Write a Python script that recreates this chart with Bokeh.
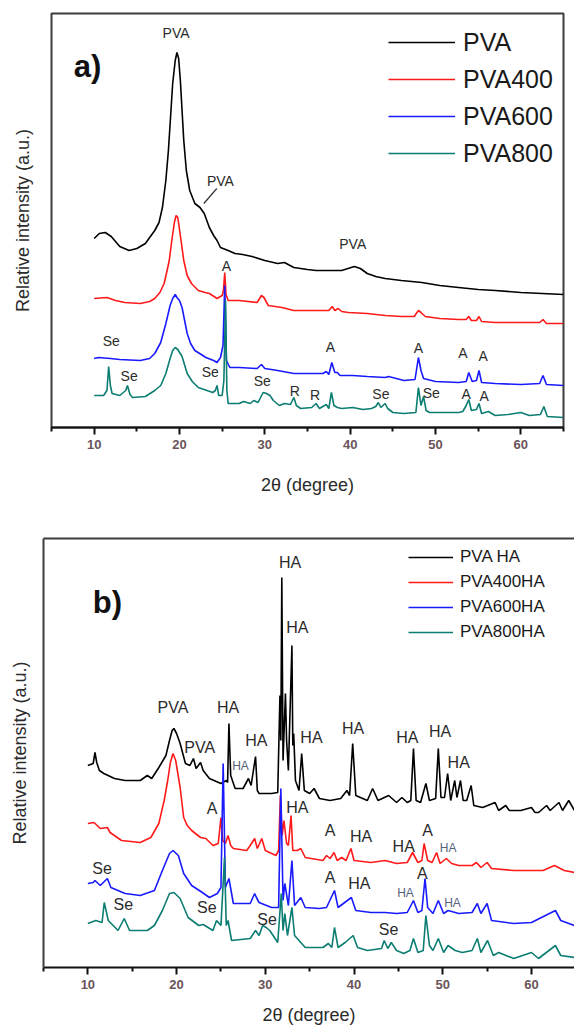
from bokeh.plotting import figure
from bokeh.models import (Range1d, Label, Legend, LegendItem, LinearAxis,
                          FixedTicker, Arrow)
from bokeh.embed import file_html
from bokeh.resources import INLINE

# ---------------- XRD patterns, panel a (2theta in degree, intensity a.u.) ----------------
pva = [(10, 189), (10.6, 194), (11.3, 195), (12.0, 191), (13.0, 181), (14.1, 177), (15.0, 179),
       (16.0, 184), (17.1, 197), (17.6, 205), (18.0, 220), (18.4, 247), (18.7, 277), (19.0, 317),
       (19.2, 344), (19.5, 367), (19.7, 375), (19.9, 369), (20.1, 347), (20.3, 317), (20.5, 287),
       (20.8, 257), (21.2, 237), (21.8, 224), (22.4, 220), (22.9, 214), (23.5, 200), (24.0, 192),
       (24.4, 187), (24.8, 180), (25.7, 177), (26.5, 174), (27.4, 173), (28.5, 171), (30.0, 167),
       (31.5, 164), (32.3, 165), (33.4, 160), (35.0, 158), (36.0, 157), (37.5, 157), (39.0, 157),
       (40.5, 161), (41.2, 159), (42.0, 154), (43.0, 151), (44.1, 149), (46.0, 147), (48.4, 145),
       (50.5, 142), (52.7, 140), (55.0, 138), (57.0, 137), (60.0, 135), (62.5, 134), (65.0, 133)]

pva400 = [(10, 129), (11.5, 130), (12.5, 127), (13.6, 125), (15.4, 124), (16.5, 126), (17.1, 129),
          (17.7, 135), (18.2, 144), (18.6, 159), (18.8, 167), (19.1, 187), (19.4, 205), (19.6, 212),
          (19.8, 210), (20.1, 192), (20.5, 167), (20.9, 152), (21.4, 144), (22.2, 137), (23.0, 135),
          (23.5, 134), (24.4, 129), (25.0, 132), (25.15, 137), (25.3, 155), (25.45, 133), (25.7, 127),
          (27.0, 127), (29.1, 125), (29.6, 132), (29.9, 130), (30.4, 122), (32.0, 120), (33.4, 117),
          (35.5, 117), (37.5, 117), (37.9, 121), (38.2, 117), (38.6, 119), (39.0, 116), (39.8, 115),
          (42.0, 114), (44.1, 112), (46.0, 111), (47.5, 111), (48.0, 117), (48.3, 115), (48.8, 111),
          (50.5, 109), (52.7, 108), (53.6, 108), (53.9, 111), (54.2, 107), (54.8, 107), (55.1, 111),
          (55.4, 106), (57.0, 105), (60.0, 105), (62.2, 105), (62.6, 108), (63.0, 104), (65.0, 104)]

pva600 = [(10, 69), (10.5, 70), (11.9, 69), (13.0, 68), (15.4, 67), (16.5, 69), (17.1, 74), (17.8, 85),
          (18.4, 104), (18.9, 122), (19.2, 129), (19.5, 133), (19.7, 130), (20.0, 127), (20.3, 120),
          (20.6, 107), (20.9, 94), (21.3, 84), (21.8, 77), (23.1, 70), (24.0, 67), (24.4, 65), (24.8, 70),
          (25.1, 82), (25.3, 142), (25.5, 67), (25.9, 60), (27.0, 60), (29.1, 59), (29.6, 63), (30.0, 59),
          (31.5, 57), (33.4, 54), (35.0, 54), (36.8, 54), (37.2, 56), (37.5, 53), (37.85, 65), (38.2, 55),
          (38.5, 55), (38.8, 52), (40.3, 52), (42.0, 51), (44.1, 50), (44.5, 51), (46.3, 47), (47.6, 48),
          (48.0, 70), (48.3, 57), (48.6, 49), (50.0, 46), (52.7, 45), (53.6, 46), (53.9, 55), (54.3, 46),
          (54.8, 47), (55.1, 57), (55.4, 45), (57.0, 44), (60.0, 43), (62.2, 44), (62.6, 52), (63.0, 43),
          (65.0, 42)]

pva800 = [(10, 32), (11.1, 32), (11.5, 37), (11.7, 61), (11.9, 42), (12.1, 34), (13.0, 32), (13.7, 37),
          (13.9, 42), (14.2, 33), (14.5, 30), (16.0, 31), (17.1, 37), (17.8, 42), (18.4, 54), (18.9, 69),
          (19.2, 77), (19.5, 80), (19.8, 78), (20.3, 71), (20.9, 54), (21.5, 46), (22.2, 40), (23.9, 35),
          (24.2, 37), (24.4, 42), (24.6, 32), (25.0, 32), (25.2, 47), (25.4, 127), (25.55, 37), (25.7, 24),
          (27.0, 24), (27.5, 26), (28.3, 24), (28.7, 27), (29.2, 25), (29.8, 35), (30.2, 34), (30.6, 32),
          (31.0, 27), (31.7, 22), (32.3, 24), (33.0, 23), (33.4, 30), (33.7, 22), (34.2, 19), (35.5, 20),
          (36.0, 24), (36.4, 19), (36.8, 21), (37.2, 23), (37.5, 19), (37.8, 35), (38.1, 22), (38.5, 20),
          (39.0, 19), (40.3, 20), (41.5, 18), (42.5, 19), (43.0, 21), (43.3, 25), (43.6, 20), (44.1, 24),
          (44.4, 19), (45.0, 15), (46.3, 14), (47.7, 15), (48.0, 40), (48.3, 22), (48.6, 31), (48.9, 17),
          (49.3, 15), (50.5, 15), (52.7, 15), (53.2, 16), (53.6, 22), (53.9, 28), (54.2, 17), (54.8, 18),
          (55.1, 24), (55.4, 14), (56.2, 16), (57.0, 12), (58.5, 13), (60.0, 15), (61.0, 12), (62.3, 13),
          (62.7, 21), (63.1, 11), (65.0, 10)]

# ---------------- XRD patterns, panel b ----------------
pva_ha = [(10, 202), (10.6, 204), (10.8, 215), (11.0, 205), (11.3, 197), (11.8, 194), (13.0, 189),
          (14.2, 187), (15.9, 187), (16.7, 192), (17.2, 189), (18.0, 200), (18.8, 212), (19.2, 227),
          (19.5, 237), (19.7, 239), (20.0, 234), (20.4, 224), (21.0, 204), (21.5, 202), (21.9, 209),
          (22.2, 199), (22.7, 205), (23.0, 197), (23.7, 189), (25.0, 184), (25.6, 187), (25.75, 185),
          (25.9, 244), (26.1, 192), (26.6, 179), (27.5, 179), (28.1, 189), (28.4, 182), (28.9, 211),
          (29.1, 177), (29.3, 174), (30.7, 174), (31.4, 175), (31.65, 272), (31.75, 227), (31.86, 390),
          (32.0, 207), (32.27, 274), (32.4, 227), (32.6, 197), (33.0, 322), (33.1, 222), (33.2, 234),
          (33.4, 187), (33.8, 177), (34.1, 214), (34.4, 177), (35.0, 174), (35.5, 179), (36.1, 169),
          (37.3, 167), (38.5, 169), (39.2, 177), (39.5, 172), (39.85, 224), (40.2, 172), (41.5, 167),
          (42.1, 179), (42.7, 167), (43.9, 172), (44.8, 165), (45.4, 170), (46.0, 165), (46.4, 167),
          (46.7, 219), (47.0, 167), (47.5, 165), (48.1, 184), (48.5, 167), (49.2, 169), (49.5, 219),
          (49.8, 170), (50.2, 170), (50.55, 194), (50.9, 167), (51.35, 187), (51.6, 170), (52.0, 187),
          (52.3, 167), (52.7, 167), (53.2, 182), (53.5, 162), (54.5, 160), (55.9, 165), (56.3, 157),
          (57.1, 162), (57.5, 157), (58.8, 157), (60.0, 160), (60.4, 155), (60.8, 155), (61.7, 162),
          (62.1, 157), (63.1, 165), (63.5, 157), (64.2, 167), (64.85, 157)]

pva400_ha = [(10, 144), (10.7, 145), (11.4, 139), (12.2, 140), (12.5, 135), (13.8, 127), (15.9, 125),
             (17.1, 130), (18.0, 144), (18.6, 167), (19.0, 187), (19.3, 205), (19.6, 214), (19.9, 207),
             (20.4, 180), (20.8, 150), (21.2, 142), (21.7, 137), (22.7, 130), (23.3, 129), (24.1, 122),
             (24.7, 124), (25.0, 150), (25.2, 127), (25.5, 124), (25.8, 132), (26.1, 122), (26.4, 119),
             (27.9, 117), (28.3, 122), (28.8, 129), (29.1, 119), (29.6, 129), (30.0, 117), (31.2, 112),
             (31.5, 117), (31.7, 172), (31.9, 132), (32.1, 147), (32.4, 124), (32.6, 122), (32.9, 152),
             (33.1, 117), (33.6, 117), (34.0, 119), (34.5, 110), (36.5, 107), (36.9, 112), (37.3, 109),
             (37.75, 115), (38.1, 107), (38.6, 110), (39.1, 107), (39.65, 119), (40.0, 107), (41.9, 105),
             (43.5, 107), (44.8, 104), (46.0, 105), (46.6, 115), (47.2, 105), (47.65, 107), (47.9, 124),
             (48.3, 107), (48.8, 105), (49.3, 115), (49.7, 104), (50.4, 109), (51.0, 104), (51.8, 102),
             (53.3, 102), (53.8, 105), (54.3, 100), (55.0, 105), (55.5, 99), (58.0, 97), (61.3, 97),
             (62.6, 102), (63.7, 97), (64.85, 95)]

pva600_ha = [(10, 84), (10.6, 85), (10.8, 87), (11.4, 82), (12.2, 89), (12.6, 80), (14.2, 74), (15.9, 72),
             (17.5, 77), (18.4, 97), (19.2, 114), (19.6, 117), (20.2, 112), (20.8, 94), (21.7, 82),
             (22.9, 75), (23.7, 70), (24.6, 74), (25.0, 80), (25.25, 204), (25.5, 80), (25.9, 89),
             (26.4, 64), (28.3, 64), (28.8, 74), (29.0, 70), (29.3, 65), (30.7, 60), (31.5, 60),
             (31.75, 179), (32.0, 67), (32.2, 84), (32.6, 62), (33.0, 107), (33.3, 62), (34.0, 70),
             (34.5, 60), (36.1, 59), (36.9, 60), (37.8, 77), (38.2, 60), (38.8, 64), (39.7, 70), (40.2, 57),
             (41.9, 55), (43.5, 55), (44.8, 54), (46.0, 55), (46.7, 67), (47.2, 55), (47.65, 57), (48.0, 89),
             (48.3, 60), (48.9, 54), (49.5, 67), (50.1, 54), (50.6, 57), (51.8, 54), (53.3, 55), (53.9, 64),
             (54.3, 54), (55.0, 64), (55.5, 47), (58.0, 44), (60.0, 45), (62.7, 57), (63.3, 47), (64.85, 42)]

pva800_ha = [(10, 44), (10.9, 47), (11.6, 45), (11.85, 65), (12.3, 47), (13.4, 37), (14.1, 49), (14.7, 37),
             (16.7, 37), (17.5, 42), (18.4, 57), (19.2, 74), (19.7, 75), (20.4, 69), (21.3, 50), (22.5, 42),
             (23.0, 43), (24.1, 37), (24.5, 47), (25.0, 42), (25.4, 110), (25.6, 42), (25.8, 47), (26.2, 27),
             (28.3, 29), (28.9, 37), (29.3, 32), (29.7, 42), (30.1, 40), (30.5, 37), (31.4, 25), (31.8, 74),
             (32.0, 37), (32.2, 54), (32.5, 32), (33.0, 60), (33.3, 32), (33.8, 27), (34.5, 20), (36.5, 20),
             (37.1, 24), (37.5, 20), (37.8, 40), (38.2, 20), (39.0, 25), (39.9, 32), (40.4, 20), (41.5, 17),
             (43.1, 19), (43.4, 27), (43.8, 19), (44.2, 25), (44.8, 17), (45.6, 14), (46.3, 17), (46.7, 29),
             (47.2, 15), (47.8, 17), (48.1, 52), (48.5, 22), (48.9, 17), (49.5, 29), (50.1, 15), (50.6, 22),
             (51.4, 17), (52.2, 15), (53.3, 17), (53.9, 29), (54.3, 15), (55.05, 27), (55.7, 12), (56.3, 15),
             (58.0, 9), (60.0, 15), (60.8, 9), (62.7, 22), (63.3, 12), (64.85, 10)]

x_ticks = [10, 20, 30, 40, 50, 60]
x_minor = [5, 15, 25, 35, 45, 55, 65]

# Phase labels: (text, 2theta, intensity)
labels_a = [("PVA", 19.6, 395), ("PVA", 24.8, 247), ("PVA", 40.3, 184), ("A", 25.5, 162),
            ("Se", 12.0, 87), ("Se", 14.1, 52), ("Se", 23.6, 56), ("Se", 29.7, 47),
            ("R", 33.5, 37), ("R", 35.9, 33), ("A", 37.7, 81), ("A", 48.0, 80),
            ("A", 53.2, 75), ("A", 55.6, 72), ("Se", 43.6, 34), ("Se", 49.5, 35),
            ("A", 53.6, 34), ("A", 55.7, 32)]

labels_b = [("HA", 32.8, 405), ("HA", 33.6, 340), ("PVA", 19.6, 260), ("HA", 25.8, 260),
            ("PVA", 22.6, 220), ("HA", 29.0, 227), ("HA", 35.2, 230), ("HA", 39.9, 239),
            ("HA", 46.0, 230), ("HA", 49.7, 236), ("HA", 51.8, 205),
            ("A", 24.0, 159), ("HA", 33.6, 160), ("A", 37.3, 137), ("HA", 40.8, 131),
            ("HA", 45.6, 121), ("A", 48.3, 137),
            ("Se", 11.6, 99), ("A", 37.3, 90), ("HA", 40.6, 84), ("A", 47.7, 94),
            ("Se", 14.0, 63), ("Se", 23.4, 60), ("Se", 30.2, 48), ("Se", 43.9, 38)]

labels_b_small = [("HA", 27.2, 202), ("HA", 50.6, 120), ("HA", 45.8, 75), ("HA", 51.1, 65)]

COLORS = ["#000000", "#ff1a1a", "#1a1aff", "#0b7d72"]
FONT = "Liberation Sans"
TEXT = "#2b2b2b"


def style_xaxis(ax, standoff):
    ax.ticker = FixedTicker(ticks=x_ticks, minor_ticks=x_minor)
    ax.axis_line_color = "#111111"
    ax.axis_line_width = 2
    ax.major_tick_line_color = "#111111"
    ax.major_tick_line_width = 2
    ax.major_tick_in = 0
    ax.major_tick_out = 7
    ax.minor_tick_line_color = "#111111"
    ax.minor_tick_line_width = 2
    ax.minor_tick_in = 0
    ax.minor_tick_out = 4
    ax.major_label_text_font = FONT
    ax.major_label_text_font_style = "bold"
    ax.major_label_text_font_size = "13px"
    ax.major_label_text_color = "#6a5458"
    ax.major_label_standoff = 5
    ax.axis_label = "2\u03b8 (degree)"
    ax.axis_label_text_font = FONT
    ax.axis_label_text_font_style = "normal"
    ax.axis_label_text_font_size = "18px"
    ax.axis_label_text_color = "#2b2b2b"
    ax.axis_label_standoff = standoff


def style_yaxis(ax, standoff):
    ax.ticker = FixedTicker(ticks=[])
    ax.major_tick_line_color = None
    ax.minor_tick_line_color = None
    ax.axis_label = "Relative intensity (a.u.)"
    ax.axis_label_text_font = FONT
    ax.axis_label_text_font_style = "normal"
    ax.axis_label_text_font_size = "18px"
    ax.axis_label_text_color = "#2b2b2b"
    ax.axis_label_standoff = standoff


def add_curves(p, series, names):
    items = []
    for data, name, color in zip(series, names, COLORS):
        xs = [d[0] for d in data]
        ys = [d[1] for d in data]
        r = p.line(xs, ys, line_color=color, line_width=1.6)
        items.append(LegendItem(label=name, renderers=[r]))
    return items


def add_labels(p, labels, size, color=TEXT):
    for text, x, y in labels:
        p.add_layout(Label(x=x, y=y, text=text, text_align="center", text_baseline="middle",
                           text_font=FONT, text_font_size=size, text_color=color))


# ---------------- panel a ----------------
pa = figure(width=574, height=505, x_range=Range1d(5, 65), y_range=Range1d(0, 414),
            output_backend="svg", toolbar_location=None,
            min_border_left=51, min_border_right=11, min_border_top=13, min_border_bottom=78)
pa.grid.visible = False
pa.outline_line_color = "#3c3c3c"
pa.outline_line_width = 2
style_xaxis(pa.xaxis[0], 23)
style_yaxis(pa.yaxis[0], 19)
pa.yaxis[0].axis_line_color = None

items_a = add_curves(pa, [pva, pva400, pva600, pva800], ["PVA", "PVA400", "PVA600", "PVA800"])
leg_a = Legend(items=items_a, location=(337, 259), border_line_color=None,
               background_fill_alpha=0, padding=0, margin=0, spacing=7,
               label_height=30, glyph_height=30, glyph_width=67, label_standoff=8,
               label_text_font=FONT, label_text_font_size="25px", label_text_color="#1a1a1a")
pa.add_layout(leg_a)

add_labels(pa, labels_a, "14px")
pa.add_layout(Arrow(end=None, x_start=22.85, y_start=224, x_end=24.37, y_end=239,
                    line_color="#333333", line_width=1.2))
pa.add_layout(Label(x=7.6, y=361, text="a)", text_align="left", text_baseline="middle",
                    text_font=FONT, text_font_style="bold", text_font_size="31px",
                    text_color="#111111"))

# ---------------- panel b ----------------
pb = figure(width=574, height=524, x_range=Range1d(5, 64.85), y_range=Range1d(0, 429),
            output_backend="svg", toolbar_location=None,
            min_border_left=43, min_border_right=0, min_border_top=33, min_border_bottom=62)
pb.grid.visible = False
pb.outline_line_color = None
style_xaxis(pb.xaxis[0], 13)
style_yaxis(pb.yaxis[0], 14)
pb.yaxis[0].axis_line_color = "#3c3c3c"
pb.yaxis[0].axis_line_width = 2
top = LinearAxis(ticker=FixedTicker(ticks=[]), axis_line_color="#3c3c3c", axis_line_width=2,
                 major_tick_line_color=None, minor_tick_line_color=None)
pb.add_layout(top, "above")

items_b = add_curves(pb, [pva_ha, pva400_ha, pva600_ha, pva800_ha],
                     ["PVA HA", "PVA400HA", "PVA600HA", "PVA800HA"])
leg_b = Legend(items=items_b, location=(365, 325), border_line_color=None,
               background_fill_alpha=0, padding=0, margin=0, spacing=5,
               label_height=20, glyph_height=20, glyph_width=45, label_standoff=7,
               label_text_font=FONT, label_text_font_size="17px", label_text_color="#1a1a1a")
pb.add_layout(leg_b)

add_labels(pb, labels_b, "16px")
add_labels(pb, labels_b_small, "12px", "#56627a")
pb.add_layout(Label(x=10.56, y=365, text="b)", text_align="left", text_baseline="middle",
                    text_font=FONT, text_font_style="bold", text_font_size="31px",
                    text_color="#111111"))

# Two independent roots stacked on the page, each keeping its own frame geometry
open("out.html", "w").write(file_html([pa, pb], INLINE))
